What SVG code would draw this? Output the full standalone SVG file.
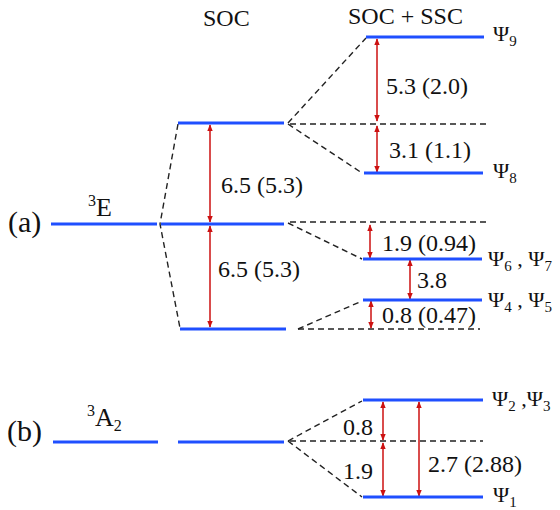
<svg xmlns="http://www.w3.org/2000/svg" width="560" height="510" viewBox="0 0 560 510" font-family="'Liberation Serif','DejaVu Serif',serif">
<defs>
<marker id="ah" viewBox="0 0 10 10" refX="9" refY="5" markerWidth="7" markerHeight="7" markerUnits="userSpaceOnUse" orient="auto-start-reverse">
<path d="M0,1 L10,5 L0,9 z" fill="#cc1111"/>
</marker>
<style>
.lvl{stroke:#1f4fff;stroke-width:3;fill:none}
.dash{stroke:#222;stroke-width:1.4;stroke-dasharray:6 4;fill:none}
.arr{stroke:#cc1111;stroke-width:1.5;fill:none;marker-start:url(#ah);marker-end:url(#ah)}
text{fill:#111}
.lab{font-size:24px}
.psi{font-size:22px}
.sub{font-size:15px}
.big{font-size:30px}
</style>
</defs>
<rect width="560" height="510" fill="#fff"/>
<text class="lab" x="203" y="26">SOC</text>
<text class="lab" x="348" y="24">SOC + SSC</text>

<g id="connectors">
<polyline class="dash" points="178,124 160,224 180,328"/>
<line class="dash" x1="288" y1="123" x2="366" y2="38"/>
<line class="dash" x1="290" y1="124" x2="487" y2="124"/>
<line class="dash" x1="288" y1="124" x2="362" y2="173"/>
<line class="dash" x1="290" y1="222" x2="488" y2="222"/>
<line class="dash" x1="288" y1="223" x2="362" y2="259"/>
<line class="dash" x1="298" y1="329" x2="480" y2="329"/>
<line class="dash" x1="298" y1="329" x2="362" y2="301"/>
<line class="dash" x1="288" y1="441" x2="362" y2="401"/>
<line class="dash" x1="290" y1="441" x2="483" y2="441"/>
<line class="dash" x1="288" y1="441" x2="362" y2="497"/>
<line class="arr" x1="210" y1="125" x2="210" y2="222"/>
<line class="arr" x1="210" y1="226" x2="210" y2="327"/>
<line class="arr" x1="377" y1="39" x2="377" y2="121"/>
<line class="arr" x1="377" y1="126" x2="377" y2="172"/>
<line class="arr" x1="370" y1="225" x2="370" y2="258"/>
<line class="arr" x1="410" y1="260" x2="410" y2="299"/>
<line class="arr" x1="371" y1="301" x2="371" y2="328"/>
<line class="arr" x1="383" y1="402" x2="383" y2="440"/>
<line class="arr" x1="383" y1="443" x2="383" y2="496"/>
<line class="arr" x1="419" y1="402" x2="419" y2="496"/>
</g>

<g id="E3">
<line class="lvl" x1="51" y1="224" x2="157" y2="224"/>
<text class="big" x="8" y="232">(a)</text>
<text x="88" y="216" font-size="26"><tspan font-size="16" dy="-10">3</tspan><tspan dy="10">E</tspan></text>
</g>
<g id="soc-top"><line class="lvl" x1="178" y1="123" x2="284" y2="123"/></g>
<g id="soc-mid"><line class="lvl" x1="161" y1="224" x2="284" y2="224"/></g>
<g id="soc-bot"><line class="lvl" x1="180" y1="329" x2="286" y2="329"/></g>
<g id="psi9"><line class="lvl" x1="366" y1="37" x2="484" y2="37"/>
<text class="psi" x="493" y="41">Ψ<tspan class="sub" dy="5">9</tspan></text></g>
<g id="psi8"><line class="lvl" x1="364" y1="173" x2="483" y2="173"/>
<text class="psi" x="493" y="178">Ψ<tspan class="sub" dy="5">8</tspan></text></g>
<g id="psi67"><line class="lvl" x1="363" y1="259" x2="482" y2="259"/>
<text class="psi" x="488" y="266">Ψ<tspan class="sub" dy="5">6</tspan><tspan dy="-5"> , Ψ</tspan><tspan class="sub" dy="5">7</tspan></text></g>
<g id="psi45"><line class="lvl" x1="363" y1="300" x2="482" y2="300"/>
<text class="psi" x="488" y="307">Ψ<tspan class="sub" dy="5">4</tspan><tspan dy="-5"> , Ψ</tspan><tspan class="sub" dy="5">5</tspan></text></g>
<g id="A2">
<line class="lvl" x1="53" y1="442" x2="158" y2="442"/>
<text class="big" x="7" y="441">(b)</text>
<text x="87" y="426" font-size="26"><tspan font-size="16" dy="-10">3</tspan><tspan dy="10">A</tspan><tspan font-size="16" dy="5">2</tspan></text>
</g>
<g id="soc-b"><line class="lvl" x1="178" y1="442" x2="284" y2="442"/></g>
<g id="psi23"><line class="lvl" x1="363" y1="400" x2="483" y2="400"/>
<text class="psi" x="492" y="406">Ψ<tspan class="sub" dy="5">2</tspan><tspan dy="-5"> ,Ψ</tspan><tspan class="sub" dy="5">3</tspan></text></g>
<g id="psi1"><line class="lvl" x1="363" y1="497" x2="483" y2="497"/>
<text class="psi" x="493" y="502">Ψ<tspan class="sub" dy="5">1</tspan></text></g>

<g id="labels">
<text class="lab" x="221" y="193">6.5 (5.3)</text>
<text class="lab" x="218" y="277">6.5 (5.3)</text>
<text class="lab" x="386" y="94">5.3 (2.0)</text>
<text class="lab" x="389" y="158">3.1 (1.1)</text>
<text class="lab" x="382" y="251">1.9 (0.94)</text>
<text class="lab" x="417" y="288">3.8</text>
<text class="lab" x="382" y="323">0.8 (0.47)</text>
<text class="lab" x="343" y="435">0.8</text>
<text class="lab" x="343" y="479">1.9</text>
<text class="lab" x="428" y="472">2.7 (2.88)</text>
</g>
</svg>
